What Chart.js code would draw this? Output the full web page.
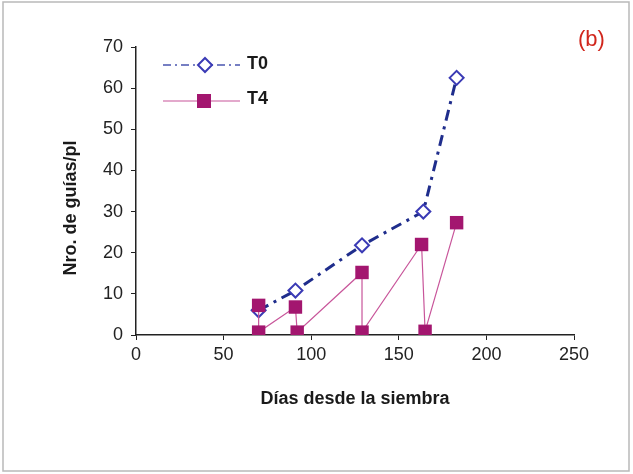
<!DOCTYPE html>
<html>
<head>
<meta charset="utf-8">
<script src="https://cdn.jsdelivr.net/npm/chart.js@4/dist/chart.umd.min.js"></script>
<style>
  html, body { margin: 0; padding: 0; background: #fff; }
  #wrap { width: 633px; height: 474px; position: relative; }
</style>
</head>
<body>
<div id="wrap"><canvas id="myChart"></canvas></div>
<script>
// días desde la siembra / nro. de guías por planta
var t0Dias = [70, 91, 129, 164, 183];
var t0Guias = [6, 10.8, 21.8, 30, 62.5];

var t4Dias = [70, 70, 91, 92, 129, 129, 163, 165, 183];
var t4Guias = [7.2, 0.7, 6.8, 0.7, 15.2, 0.7, 22, 0.9, 27.3];

var xTicks = [0, 50, 100, 150, 200, 250];
var yTicks = [0, 10, 20, 30, 40, 50, 60, 70];

function pts(xs, ys) {
  return xs.map(function (x, i) { return { x: x, y: ys[i] }; });
}

var FONT = '"Liberation Sans", Arial, sans-serif';
var T0_COLOR = '#1f2d8c';
var T4_COLOR = '#a3166f';

var frame = {
  id: 'frame',
  beforeDraw: function (chart) {
    var c = chart.ctx;
    c.save();
    c.fillStyle = '#fff';
    c.fillRect(0, 0, chart.width, chart.height);
    c.strokeStyle = '#b9b9b9';
    c.lineWidth = 1.5;
    c.strokeRect(3, 2, chart.width - 7, chart.height - 5);
    c.restore();
  },
  afterDraw: function (chart) {
    var c = chart.ctx;
    c.save();
    // y title (drawn by hand to sit a bit lower, like the scan)
    c.translate(71, 208);
    c.rotate(-Math.PI / 2);
    c.font = 'bold 18px ' + FONT;
    c.fillStyle = '#1a1a1a';
    c.textAlign = 'center';
    c.textBaseline = 'middle';
    c.fillText('Nro. de guías/pl', 0, 0);
    c.restore();

    c.save();
    // legend
    c.font = 'bold 18px ' + FONT;
    c.textBaseline = 'middle';
    c.strokeStyle = '#4a55b0';
    c.lineWidth = 1.5;
    c.setLineDash([8, 4, 2, 4]);
    c.beginPath(); c.moveTo(163, 65); c.lineTo(240, 65); c.stroke();
    c.setLineDash([]);
    c.fillStyle = '#fff';
    c.strokeStyle = '#3a3ab5';
    c.lineWidth = 2;
    c.beginPath();
    c.moveTo(205, 58); c.lineTo(212, 65); c.lineTo(205, 72); c.lineTo(198, 65); c.closePath();
    c.fill(); c.stroke();
    c.fillStyle = '#1a1a1a';
    c.fillText('T0', 247, 64);

    c.strokeStyle = '#c8559a';
    c.lineWidth = 1.2;
    c.beginPath(); c.moveTo(163, 101); c.lineTo(240, 101); c.stroke();
    c.fillStyle = T4_COLOR;
    c.fillRect(197, 94, 14, 14);
    c.fillStyle = '#1a1a1a';
    c.fillText('T4', 247, 99);

    // panel label
    c.font = '22px ' + FONT;
    c.fillStyle = '#d1261c';
    c.fillText('(b)', 578, 40);
    c.restore();
  }
};

var ctx = document.getElementById('myChart');
new Chart(ctx, {
  type: 'scatter',
  data: {
    datasets: [{
      label: 'T0',
      data: pts(t0Dias, t0Guias),
      showLine: true,
      borderColor: T0_COLOR,
      borderWidth: 3,
      borderDash: [11, 6, 3, 6],
      pointStyle: 'rectRot',
      pointRadius: 7,
      pointBorderWidth: 2,
      pointBorderColor: '#3a3ab5',
      pointBackgroundColor: '#fff',
      order: 2
    }, {
      label: 'T4',
      data: pts(t4Dias, t4Guias),
      showLine: true,
      borderColor: '#c8559a',
      borderWidth: 1.2,
      pointStyle: 'rect',
      pointRadius: 9.5,
      pointBorderWidth: 0,
      pointBackgroundColor: T4_COLOR,
      order: 1
    }]
  },
  options: {
    responsive: true,
    maintainAspectRatio: false,
    animation: false,
    layout: { padding: { left: 55, top: 47, right: 59, bottom: 60 } },
    plugins: { legend: { display: false }, tooltip: { enabled: false } },
    scales: {
      x: {
        type: 'linear',
        min: 0, max: 250,
        afterBuildTicks: function (s) { s.ticks = xTicks.map(function (v) { return { value: v }; }); },
        afterFit: function (s) { s.height = 79; },
        grid: { drawOnChartArea: false, tickLength: 5, color: '#222' },
        border: { color: '#222', width: 1.5 },
        ticks: { color: '#222', padding: 4, font: { family: FONT, size: 18 } },
        title: { display: true, text: 'Días desde la siembra', color: '#1a1a1a', padding: { top: 12 },
                 font: { family: FONT, size: 18, weight: 'bold' } }
      },
      y: {
        min: 0, max: 70,
        afterBuildTicks: function (s) { s.ticks = yTicks.map(function (v) { return { value: v }; }); },
        afterFit: function (s) { s.width = 81; },
        grid: { drawOnChartArea: false, tickLength: 5, color: '#222' },
        border: { color: '#222', width: 1.5 },
        ticks: { color: '#222', padding: 8, font: { family: FONT, size: 18 } },
        title: { display: false }
      }
    }
  },
  plugins: [frame]
});
</script>
</body>
</html>
